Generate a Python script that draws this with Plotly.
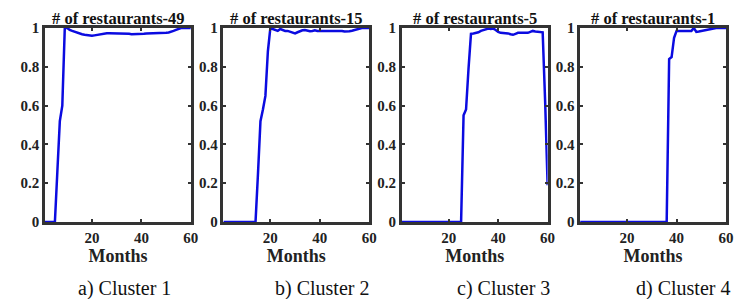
import plotly.graph_objects as go

months = list(range(1, 61))

cluster1 = [0, 0, 0, 0, 0, 0.26, 0.52, 0.60, 1.0, 1.0,
            0.99, 0.985, 0.98, 0.975, 0.97, 0.968, 0.965, 0.962, 0.96, 0.96,
            0.962, 0.965, 0.968, 0.97, 0.972, 0.973, 0.973, 0.973, 0.973, 0.973,
            0.973, 0.973, 0.973, 0.972, 0.97, 0.968, 0.968, 0.968, 0.968, 0.968,
            0.97, 0.972, 0.972, 0.972, 0.972, 0.972, 0.972, 0.972, 0.973, 0.975,
            0.977, 0.98, 0.985, 0.99, 0.995, 1.0, 1.0, 1.0, 1.0, 1.0]

cluster2 = [0, 0, 0, 0, 0, 0, 0, 0, 0, 0,
            0, 0, 0, 0, 0.25, 0.52, 0.58, 0.65, 0.88, 1.0,
            0.995, 0.99, 0.985, 0.995, 0.99, 0.985, 0.985, 0.98, 0.975, 0.972,
            0.978, 0.985, 0.988, 0.99, 0.985, 0.983, 0.985, 0.988, 0.985, 0.985,
            0.987, 0.987, 0.987, 0.987, 0.987, 0.987, 0.987, 0.987, 0.985, 0.982,
            0.982, 0.983, 0.986, 0.99, 0.995, 1.0, 1.0, 1.0, 1.0, 1.0]

cluster3 = [0, 0, 0, 0, 0, 0, 0, 0, 0, 0,
            0, 0, 0, 0, 0, 0, 0, 0, 0, 0,
            0, 0, 0, 0, 0, 0.55, 0.58, 0.79, 0.97, 0.972,
            0.975, 0.978, 0.985, 0.99, 0.995, 0.997, 0.995, 0.997, 0.99, 0.98,
            0.975, 0.975, 0.975, 0.972, 0.968, 0.965, 0.97, 0.975, 0.975, 0.975,
            0.975, 0.975, 0.98, 0.985, 0.982, 0.98, 0.98, 0.978, 0.62, 0.19]

cluster4 = [0] * 36 + [0.84, 0.85, 0.95, 0.985,
            0.985, 0.985, 0.985, 0.985, 0.985, 0.985, 1.0, 0.98, 0.982, 0.985,
            0.988, 0.99, 0.995, 0.998, 1.0, 1.0, 1.0, 1.0, 1.0, 1.0]

series = [cluster1, cluster2, cluster3, cluster4]
titles = ["# of restaurants-49", "# of restaurants-15", "# of restaurants-5", "# of restaurants-1"]
captions = ["a) Cluster 1", "b) Cluster 2", "c) Cluster 3", "d) Cluster 4"]
x_ticks = [20, 40, 60]
y_ticks = [0, 0.2, 0.4, 0.6, 0.8, 1]
y_tick_labels = ["0", "0.2", "0.4", "0.6", "0.8", "1"]

# page body has an 8px margin; compensate so the plot lands where the reference has it
OFF = 8
W, H = 746 - OFF, 299 - OFF
ML, MR, MT, MB = 39 - OFF, 16, 24 - OFF, 77
pw = W - ML - MR
lefts = [39, 220, 401, 582]          # reference pixel left edges of each box
box_w = 148
domains = [[(l - 39) / pw, min(1.0, (l + box_w - 39) / pw)] for l in lefts]
caption_px = [120, 320, 504, 686]    # reference caption centres
title_px = [114, 294, 475, 656]

serif = "Liberation Serif"
frame = "#333333"

fig = go.Figure()
layout = dict(
    width=W, height=H,
    margin=dict(l=ML, r=MR, t=MT, b=MB, pad=0),
    paper_bgcolor="white", plot_bgcolor="white",
    showlegend=False,
    annotations=[],
)

for i, (vals, title, cap) in enumerate(zip(series, titles, captions)):
    n = "" if i == 0 else str(i + 1)
    fig.add_trace(go.Scatter(
        x=months, y=vals, mode="lines",
        line=dict(color="#0b0be0", width=2.5),
        xaxis="x" + n, yaxis="y" + n,
    ))
    layout["xaxis" + n] = dict(
        domain=domains[i], range=[1, 60], anchor="y" + n,
        tickvals=x_ticks, ticks="inside", ticklen=3, tickwidth=2, tickcolor=frame,
        showline=True, linewidth=2.5, linecolor=frame, mirror="ticks",
        showgrid=False, zeroline=False,
        tickfont=dict(family=serif, size=15, color="#222", weight="bold"),
        title=dict(text="Months", standoff=3,
                   font=dict(family=serif, size=18, color="#222", weight="bold")),
    )
    layout["yaxis" + n] = dict(
        domain=[0, 1], range=[0, 1], anchor="x" + n,
        tickvals=y_ticks, ticktext=y_tick_labels,
        ticks="inside", ticklen=3, tickwidth=2, tickcolor=frame,
        showline=True, linewidth=2.5, linecolor=frame, mirror="ticks",
        showgrid=False, zeroline=False,
        tickfont=dict(family=serif, size=15, color="#222", weight="bold"),
    )
    layout["annotations"].append(dict(
        text="<b>" + title + "</b>", x=(title_px[i] - 39) / pw, y=1,
        xref="paper", yref="paper",
        xanchor="center", yanchor="bottom", yshift=-1, borderpad=0, showarrow=False,
        font=dict(family=serif, size=16.5, color="#111"),
    ))
    layout["annotations"].append(dict(
        text=cap, x=(caption_px[i] - 39) / pw, y=0, xref="paper", yref="paper",
        xanchor="center", yanchor="middle", yshift=-66, showarrow=False,
        font=dict(family=serif, size=20, color="#111"),
    ))

fig.update_layout(**layout)
fig.write_html("out.html")
